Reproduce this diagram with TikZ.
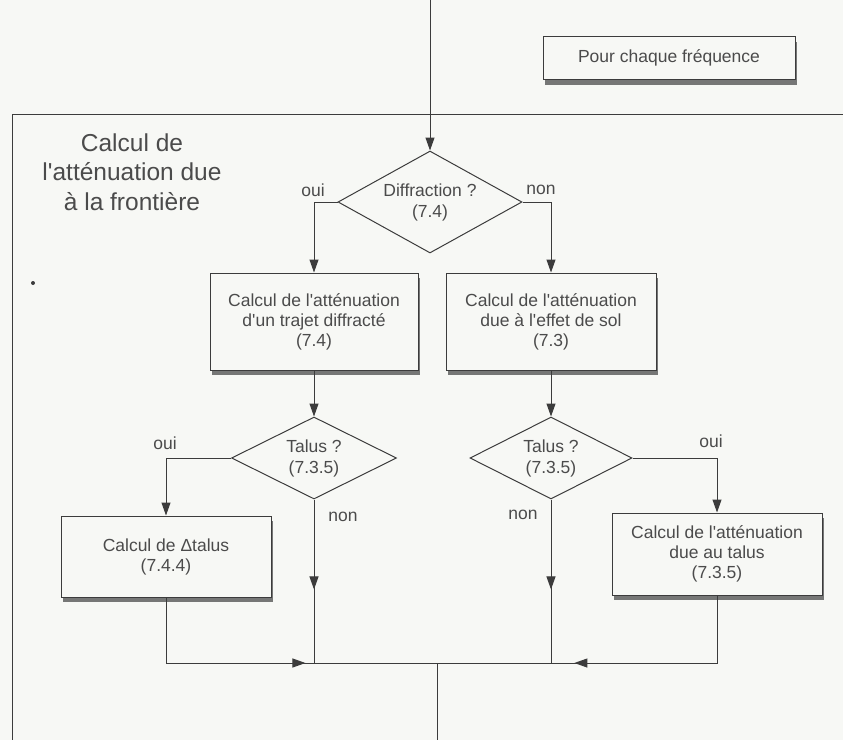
\documentclass[tikz,border=0pt]{standalone}
\usepackage{fontspec}
\setmainfont{Liberation Sans}
\usetikzlibrary{arrows.meta,shapes.geometric,shadows,decorations.markings}
\definecolor{paper}{RGB}{247,248,245}
\definecolor{ink}{RGB}{60,60,60}
\definecolor{txt}{RGB}{75,75,75}
\newcommand\apos{\textquotesingle}
\begin{document}
\begin{tikzpicture}[x=1pt,y=-1pt,
  line/.style={draw=ink, line width=1pt},
  arr/.style={line, -{Triangle[length=13pt,width=9pt]}},
  midarrow/.style={line, postaction={decorate},
    decoration={markings, mark=at position #1 with {\arrow{Triangle[length=13pt,width=9pt]}}}},
  box/.style={draw=ink, line width=1pt, fill=paper, text=txt, align=center,
    font=\fontsize{17.5}{20}\selectfont, inner sep=2pt,
    drop shadow={shadow xshift=1.5pt, shadow yshift=-5pt, fill=black!70, opacity=.75}},
  decision/.style={diamond, draw=ink, line width=1pt, fill=paper, text=txt, align=center,
    font=\fontsize{17.5}{21}\selectfont, inner sep=0pt, shape aspect=2},
  lab/.style={text=txt, font=\fontsize{17.5}{20}\selectfont, inner sep=0pt}
]
\fill[paper] (0,0) rectangle (843,740);
\useasboundingbox (0,0) rectangle (843,740);

% frame
\coordinate (fr1) at (843,114);
\coordinate (fr2) at (12,114);
\coordinate (fr3) at (12,740);
\draw[line] (fr1) -- (fr2) -- (fr3);

\node[text=txt, align=center, font=\fontsize{24.5}{29.5}\selectfont] (titre) at (132,172)
  {Calcul de\\l\apos atténuation due\\à la frontière};
\fill[ink] (33,283) circle (2);

\node[box, minimum width=252pt, minimum height=43pt] (freq) at (669,58) {Pour chaque fréquence};

\coordinate (start) at (430,0);
\node[decision, minimum width=184pt, minimum height=102pt] (diff) at (430,202) {Diffraction ?\\(7.4)};

\node[box, minimum width=208pt, minimum height=97pt] (trajet) at (314,321.5)
  {Calcul de l\apos atténuation\\d\apos un trajet diffracté\\(7.4)};
\node[box, minimum width=210pt, minimum height=97pt] (sol) at (551,321.5)
  {Calcul de l\apos atténuation\\due à l\apos effet de sol\\(7.3)};

\node[decision, minimum width=165pt, minimum height=82pt] (talusL) at (314,458) {Talus ?\\(7.3.5)};
\node[decision, minimum width=162pt, minimum height=82pt] (talusR) at (551,458) {Talus ?\\(7.3.5)};

\node[box, minimum width=210pt, minimum height=81pt] (dtalus) at (166,556.5)
  {Calcul de Δtalus\\(7.4.4)};
\node[box, minimum width=210pt, minimum height=82pt] (atalus) at (717,554)
  {Calcul de l\apos atténuation\\due au talus\\(7.3.5)};

\coordinate (jL) at (314,663);
\coordinate (jR) at (551,663);
\coordinate (jM) at (437,663);
\coordinate (fin) at (437,740);

% connectors
\draw[arr] (start) -- (diff.north);
\draw[arr] (diff.west) -| (trajet.north);
\draw[arr] (diff.east) -| (sol.north);
\draw[arr] (trajet.south) -- (talusL.north);
\draw[arr] (sol.south) -- (talusR.north);
\draw[arr] (talusL.west) -| (dtalus.north);
\draw[arr] (talusR.east) -| (atalus.north);
\draw[midarrow=0.55] (talusL.south) -- (jL);
\draw[midarrow=0.55] (talusR.south) -- (jR);
\draw[midarrow=0.96] (dtalus.south) |- (jL);
\draw[midarrow=0.9] (atalus.south) |- (jR);
\draw[line] (jL) -- (jR);
\draw[line] (jM) -- (fin);

% labels
\node[lab] (l1) at (313,190) {oui};
\node[lab] (l2) at (541,190) {non};
\node[lab] (l3) at (165,443) {oui};
\node[lab] (l4) at (343,517) {non};
\node[lab] (l5) at (523,515) {non};
\node[lab] (l6) at (711,441) {oui};
\end{tikzpicture}
\end{document}
